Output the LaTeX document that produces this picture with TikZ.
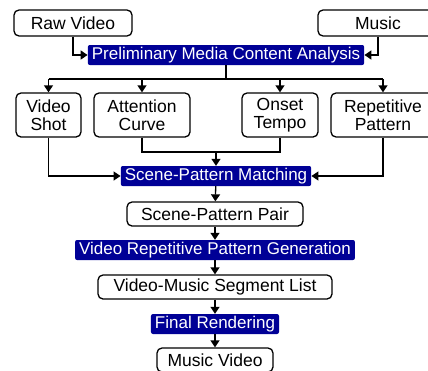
\documentclass[tikz,border=0pt]{standalone}
\usepackage{fontspec}
\setmainfont{Liberation Sans}
\usetikzlibrary{arrows.meta}
\definecolor{stepblue}{RGB}{0,0,150}
\tikzset{
  databox/.style={draw, rounded corners=5pt, line width=1.3pt, inner sep=0pt, align=center,
    minimum height=24pt, font=\fontsize{17.5}{18.5}\selectfont},
  stepbox/.style={fill=stepblue, rounded corners=2pt, inner xsep=4pt, inner ysep=0pt,
    minimum height=20pt, text=white, font=\fontsize{17}{18}\selectfont},
  arr/.style={-{Triangle[length=7pt,width=9pt]}, line width=1.3pt},
  wire/.style={line width=1.3pt}
}
\begin{document}
\begin{tikzpicture}[x=1pt, y=-1pt]

\useasboundingbox (0,0) rectangle (428,370);
\clip (0,0) rectangle (428,370);

% Inputs
\node (raw) at (73, 23) [databox, minimum width=118pt, minimum height=26pt] {Raw Video};
\node (music) at (378, 23) [databox, minimum width=120pt, minimum height=26pt] {Music};

% Analysis
\node (pmca) at (226, 55) [stepbox] {Preliminary Media Content Analysis};
\coordinate (split) at (226, 79);

% Features
\node (vshot) at (48.5, 115) [databox, minimum width=65pt, minimum height=44pt] {Video\\Shot};
\node (attn) at (142, 115) [databox, minimum width=96pt, minimum height=44pt] {Attention\\Curve};
\node (onset) at (280, 115) [databox, minimum width=76pt, minimum height=44pt] {Onset\\Tempo};
\node (repet) at (383, 115) [databox, minimum width=104pt, minimum height=44pt] {Repetitive\\Pattern};
\coordinate (merge) at (216, 152);

% Pipeline
\node (spm) at (216, 176) [stepbox] {Scene-Pattern Matching};
\node (spp) at (215, 214) [databox, minimum width=176pt] {Scene-Pattern Pair};
\node (vrpg) at (215, 250) [stepbox] {Video Repetitive Pattern Generation};
\node (vmsl) at (215, 287) [databox, minimum width=234pt] {Video-Music Segment List};
\node (fr) at (215, 324) [stepbox] {Final Rendering};
\node (mv) at (215, 360) [databox, minimum width=116pt] {Music Video};

% Arrows into analysis
\draw[arr] (raw.south) |- (pmca.west);
\draw[arr] (music.south) |- (pmca.east);

% Analysis to features
\draw[wire] (pmca.south) -- (split);
\draw[wire] (vshot.north |- split) -- (repet.north |- split);
\draw[arr] (vshot.north |- split) -- (vshot.north);
\draw[arr] (attn.north |- split) -- (attn.north);
\draw[arr] (onset.north |- split) -- (onset.north);
\draw[arr] (repet.north |- split) -- (repet.north);

% Features to matching
\draw[wire] (attn.south) |- (merge) -| (onset.south);
\draw[arr] (merge) -- (spm.north);
\draw[arr] (vshot.south) |- (spm.west);
\draw[arr] (repet.south) |- (spm.east);

% Down the pipeline
\draw[arr] (spm) -- (spp);
\draw[arr] (spp) -- (vrpg);
\draw[arr] (vrpg) -- (vmsl);
\draw[arr] (vmsl) -- (fr);
\draw[arr] (fr) -- (mv);

\end{tikzpicture}
\end{document}
